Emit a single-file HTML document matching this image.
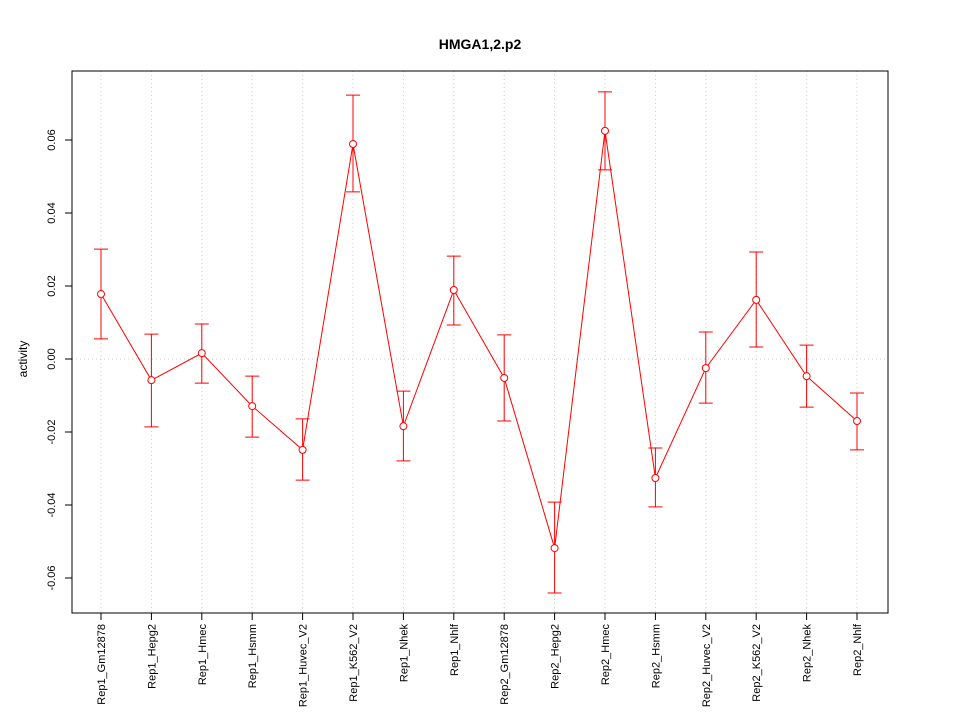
<!DOCTYPE html>
<html><head><meta charset="utf-8"><style>
html,body{margin:0;padding:0;background:#fff;}
svg{display:block;font-family:"Liberation Sans",sans-serif;}
</style></head><body>
<svg id="chart" width="960" height="720">
<text x="480" y="49" text-anchor="middle" font-size="14" font-weight="bold">HMGA1,2.p2</text>
<text transform="translate(27,359) rotate(-90)" text-anchor="middle" font-size="12">activity</text>
<g id="grid"></g><g id="axes"></g><g id="series"></g>
<rect x="72" y="71" width="816" height="542" fill="none" stroke="#000"/>
</svg>
<script>
const categories=["Rep1_Gm12878","Rep1_Hepg2","Rep1_Hmec","Rep1_Hsmm","Rep1_Huvec_V2","Rep1_K562_V2","Rep1_Nhek","Rep1_Nhlf","Rep2_Gm12878","Rep2_Hepg2","Rep2_Hmec","Rep2_Hsmm","Rep2_Huvec_V2","Rep2_K562_V2","Rep2_Nhek","Rep2_Nhlf"];
const values=[0.0178,-0.0058,0.0016,-0.0129,-0.0249,0.0589,-0.0184,0.0189,-0.0052,-0.0518,0.0625,-0.0326,-0.0025,0.0162,-0.0047,-0.0170];
const upper=[0.0301,0.0068,0.0096,-0.0047,-0.0164,0.0723,-0.0088,0.0282,0.0066,-0.0392,0.0732,-0.0244,0.0074,0.0293,0.0038,-0.0093];
const lower=[0.0055,-0.0186,-0.0066,-0.0214,-0.0332,0.0458,-0.0279,0.0093,-0.0170,-0.0641,0.0518,-0.0405,-0.0121,0.0033,-0.0132,-0.0249];
const yTicks=[-0.06,-0.04,-0.02,0.00,0.02,0.04,0.06];
const yTickLabels=["-0.06","-0.04","-0.02","0.00","0.02","0.04","0.06"];

const NS="http://www.w3.org/2000/svg";
function xs(i){return 101+i*(857-101)/(categories.length-1);}
function ys(v){return 359-v*3650;}
function mk(parent,tag,attrs){const e=document.createElementNS(NS,tag);for(const k in attrs)e.setAttribute(k,attrs[k]);document.getElementById(parent).appendChild(e);return e;}

categories.forEach((c,i)=>{
  const g=mk("grid","line",{x1:xs(i),x2:xs(i),y1:71,y2:613,stroke:"#ccc","stroke-dasharray":"1,3"});
  
  
  const t=mk("axes","line",{x1:xs(i),x2:xs(i),y1:613,y2:620,stroke:"#000"});
  
  
  const l=mk("axes","text",{transform:`translate(${xs(i)+4},624) rotate(-90)`,"text-anchor":"end","font-size":"11"});
  l.textContent=c;
  
  
});
const h=mk("grid","line",{x1:72,x2:888,y1:ys(0),y2:ys(0),stroke:"#ccc","stroke-dasharray":"1,3"});


yTicks.forEach((v,i)=>{
  const t=mk("axes","line",{x1:65,x2:72,y1:ys(v),y2:ys(v),stroke:"#000"});
  
  
  const l=mk("axes","text",{transform:`translate(55,${ys(v)}) rotate(-90)`,"text-anchor":"middle","font-size":"11"});
  l.textContent=yTickLabels[i];
  
  
});
const line=mk("series","polyline",{points:values.map((v,i)=>xs(i)+","+ys(v)).join(" "),fill:"none",stroke:"#f00"});


values.forEach((v,i)=>{
  const x=xs(i);
  const e=mk("series","path",{d:`M${x},${ys(upper[i])}V${ys(lower[i])}M${x-7},${ys(upper[i])}H${x+7}M${x-7},${ys(lower[i])}H${x+7}`,stroke:"#f00",fill:"none"});
  
  
  const p=mk("series","circle",{cx:x,cy:ys(v),r:3.5,fill:"#fff",stroke:"#f00"});
  
  
});
</script>
</body></html>
